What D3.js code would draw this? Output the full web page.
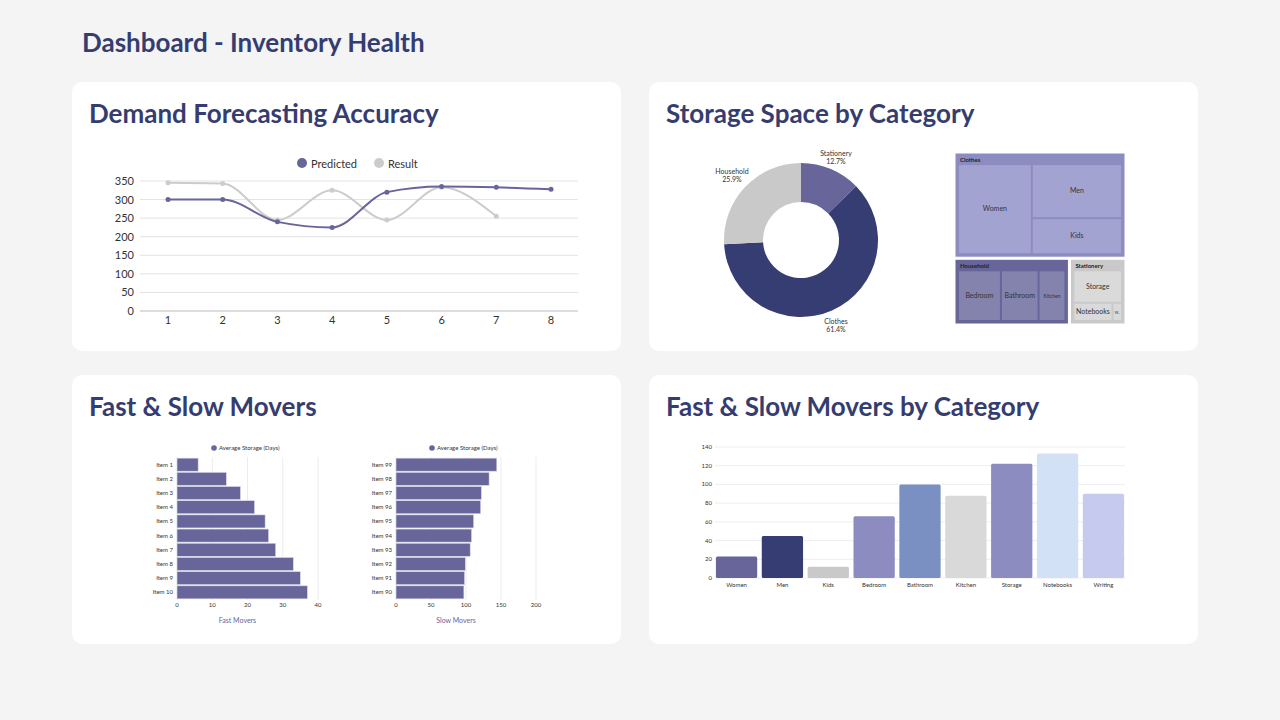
<!DOCTYPE html>
<html><head><meta charset="utf-8">
<script src="https://cdn.jsdelivr.net/npm/d3@7"></script>
<style>body{margin:0;background:#f4f4f4;font-family:Lato,sans-serif}</style>
</head><body>
<svg id="c" width="1280" height="720"></svg>
<script>
const xDays=[1,2,3,4,5,6,7,8];
const predicted=[300,300,240,225,320,335,333,328];
const result=[345,343,245,325,245,333,255];
const lineTicks=[0,50,100,150,200,250,300,350];
const donutCats=["Stationery","Clothes","Household"];
const donutVals=[12.7,61.4,25.9];
const donutColors=["#67659a","#363d73","#c9c9c9"];
const tmGroups=["Clothes","Household","Stationery"];
const tmChildren=[["Women","Men","Kids"],["Bedroom","Bathroom","Kitchen"],["Storage","Notebooks","Writing"]];
const tmValues=[[45,33,22],[40,35,25],[64,29,7]];
const tmGroupVals=[61.4,25.9,12.7];
const fastItems=["Item 1","Item 2","Item 3","Item 4","Item 5","Item 6","Item 7","Item 8","Item 9","Item 10"];
const fastVals=[6,14,18,22,25,26,28,33,35,37];
const slowItems=["Item 99","Item 98","Item 97","Item 96","Item 95","Item 94","Item 93","Item 92","Item 91","Item 90"];
const slowVals=[144,133,122,121,111,108,106,99,98,97];
const catNames=["Women","Men","Kids","Bedroom","Bathroom","Kitchen","Storage","Notebooks","Writing"];
const catVals=[23,45,12,66,100,88,122,133,90];
const catColors=["#67659a","#363d73","#c9c9c9","#8d8cc1","#7b90c2","#d9d9d9","#8d8cc1","#d3e1f7","#c6caee"];

const svg=d3.select("#c");
const navy="#353d70";
svg.append("text").attr("x",82).attr("y",52).attr("font-size",26).attr("font-weight",700).attr("fill",navy).text("Dashboard - Inventory Health");
const cards=[[72,82,"Demand Forecasting Accuracy"],[649,82,"Storage Space by Category"],[72,375,"Fast & Slow Movers"],[649,375,"Fast & Slow Movers by Category"]];
cards.forEach(([x,y,t])=>{
 svg.append("rect").attr("x",x).attr("y",y).attr("width",549).attr("height",269).attr("rx",10).attr("fill","#fff");
 svg.append("text").attr("x",x+17).attr("y",y+41).attr("font-size",26).attr("font-weight",700).attr("fill",navy).text(t);
});

// line chart
{
 const x=d3.scaleLinear().domain([1,8]).range([168,551]);
 const y=d3.scaleLinear().domain([0,350]).range([311,181]);
 const g=svg.append("g");
 lineTicks.forEach(t=>{
  g.append("line").attr("x1",140).attr("x2",578).attr("y1",y(t)).attr("y2",y(t)).attr("stroke",t==0?"#bbb":"#e3e3e3");
  g.append("text").attr("x",134).attr("y",y(t)+4).attr("text-anchor","end").attr("font-size",11).attr("fill","#333").text(t);
 });
 xDays.forEach(d=>g.append("text").attr("x",x(d)).attr("y",324).attr("text-anchor","middle").attr("font-size",11).attr("fill","#333").text(d));
 const ln=d3.line().x((d,i)=>x(xDays[i])).y(d=>y(d)).curve(d3.curveMonotoneX);
 [[result,"#cccccc"],[predicted,"#67659a"]].forEach(([s,c])=>{
  g.append("path").attr("d",ln(s)).attr("fill","none").attr("stroke",c).attr("stroke-width",2);
  s.forEach((v,i)=>g.append("circle").attr("cx",x(xDays[i])).attr("cy",y(v)).attr("r",2.5).attr("fill",c));
 });
 [["Predicted","#67659a",302],["Result","#cccccc",379]].forEach(([t,c,lx])=>{
  g.append("circle").attr("cx",lx).attr("cy",163).attr("r",5).attr("fill",c);
  g.append("text").attr("x",lx+9).attr("y",168).attr("font-size",11).attr("fill","#333").text(t);
 });
}
// donut
{
 const pie=d3.pie().sort(null).value(d=>d)(donutVals);
 const arc=d3.arc().innerRadius(38).outerRadius(77);
 const g=svg.append("g").attr("transform","translate(801,240)");
 pie.forEach((p,i)=>g.append("path").attr("d",arc(p)).attr("fill",donutColors[i]));
 const lab=[[35,-84],[35,84],[-69,-66]];
 pie.forEach((p,i)=>{
  const t=g.append("text").attr("x",lab[i][0]).attr("y",lab[i][1]).attr("text-anchor","middle").attr("font-size",7).attr("fill","#333");
  t.append("tspan").attr("x",lab[i][0]).text(donutCats[i]);
  t.append("tspan").attr("x",lab[i][0]).attr("dy",8).text(donutVals[i]+"%");
 });
}
// treemap
{
 const data={name:"root",children:tmGroups.map((g,i)=>({name:g,children:tmChildren[i].map((c,j)=>({name:c,value:tmValues[i][j]*tmGroupVals[i]/100}))}))};
 const root=d3.hierarchy(data).sum(d=>d.value||0);
 const modes={Clothes:"dice-slice",Household:"dice",Stationery:"slice-dice"};
 function tile(node,x0,y0,x1,y1){
  if(node.depth===0) return d3.treemapBinary(node,x0,y0,x1,y1);
  const m=modes[node.data.name];
  if(m==="dice") return d3.treemapDice(node,x0,y0,x1,y1);
  const [first,...rest]=node.children;
  const k=first.value/node.value;
  const sub={children:rest,value:rest.reduce((a,c)=>a+c.value,0)};
  if(m==="dice-slice"){
   const xm=x0+(x1-x0)*k;
   first.x0=x0;first.x1=xm;first.y0=y0;first.y1=y1;
   d3.treemapSlice(sub,xm,y0,x1,y1);
  } else {
   const ym=y0+(y1-y0)*k;
   first.x0=x0;first.x1=x1;first.y0=y0;first.y1=ym;
   d3.treemapDice(sub,x0,ym,x1,y1);
  }
 }
 d3.treemap().size([170,170]).tile(tile).paddingInner(2)
   .paddingOuter(d=>d.depth===0?0:4).paddingTop(d=>d.depth===0?0:12)(root);
 const sx=d3.scaleLinear().domain([0,170]).range([955,1125]);
 const sy=d3.scaleLinear().domain([0,170]).range([153,324]);
 const gc={Clothes:["#8d8cc1","#a3a3d2"],Household:["#67659a","#8483ad"],Stationery:["#c9c9c9","#dadada"]};
 const g=svg.append("g");
 root.children.forEach(n=>{
  g.append("rect").attr("x",sx(n.x0)).attr("y",sy(n.y0)).attr("width",sx(n.x1)-sx(n.x0)).attr("height",sy(n.y1)-sy(n.y0)).attr("fill",gc[n.data.name][0]).attr("stroke","#fff").attr("stroke-width",1);
  g.append("text").attr("x",sx(n.x0)+5).attr("y",sy(n.y0)+9).attr("font-size",6).attr("font-weight",700).attr("fill","#222").text(n.data.name);
  n.children.forEach(c=>{
   const w=sx(c.x1)-sx(c.x0),h=sy(c.y1)-sy(c.y0);
   g.append("rect").attr("x",sx(c.x0)).attr("y",sy(c.y0)).attr("width",w).attr("height",h).attr("fill",gc[n.data.name][1]);
   const fs=w<10?3.5:(w<30?5:7);
   g.append("text").attr("x",sx(c.x0)+w/2).attr("y",sy(c.y0)+h/2+2).attr("text-anchor","middle").attr("font-size",fs).attr("fill","#333").text(w<10?"W..":c.data.name);
  });
 });
}
// fast & slow
function hbar(items,vals,x0,x1,max,ticks,title,lx){
 const x=d3.scaleLinear().domain([0,max]).range([x0,x1]);
 const y=d3.scaleBand().domain(items).range([457,600]).padding(0.08);
 const g=svg.append("g");
 ticks.forEach(t=>{
  g.append("line").attr("x1",x(t)).attr("x2",x(t)).attr("y1",457).attr("y2",600).attr("stroke","#ececec");
  g.append("text").attr("x",x(t)).attr("y",607).attr("text-anchor","middle").attr("font-size",6).attr("fill","#333").text(t);
 });
 items.forEach((it,i)=>{
  g.append("rect").attr("x",x(0)).attr("y",y(it)).attr("width",x(vals[i])-x(0)).attr("height",y.bandwidth()).attr("fill","#67659a").attr("stroke","#dcdcec").attr("stroke-width",0.6);
  g.append("text").attr("x",x0-4).attr("y",y(it)+y.bandwidth()/2+2).attr("text-anchor","end").attr("font-size",6).attr("fill","#333").text(it);
 });
 g.append("circle").attr("cx",lx).attr("cy",448).attr("r",2.8).attr("fill","#67659a");
 g.append("text").attr("x",lx+5).attr("y",450).attr("font-size",6).attr("fill","#333").text("Average Storage (Days)");
 g.append("text").attr("x",(x0+x1)/2-10).attr("y",623).attr("text-anchor","middle").attr("font-size",7).attr("fill","#67659a").text(title);
}
hbar(fastItems,fastVals,177,318,40,[0,10,20,30,40],"Fast Movers",214);
hbar(slowItems,slowVals,396,536,200,[0,50,100,150,200],"Slow Movers",432);
// category bars
{
 const x=d3.scaleBand().domain(catNames).range([715,1125]).paddingInner(0.1).paddingOuter(0.02);
 const y=d3.scaleLinear().domain([0,140]).range([578,447]);
 const g=svg.append("g");
 d3.range(0,141,20).forEach(t=>{
  g.append("line").attr("x1",715).attr("x2",1125).attr("y1",y(t)).attr("y2",y(t)).attr("stroke","#eeeeee");
  g.append("text").attr("x",712).attr("y",y(t)+2).attr("text-anchor","end").attr("font-size",6).attr("fill","#333").text(t);
 });
 catNames.forEach((c,i)=>{
  g.append("rect").attr("x",x(c)).attr("y",y(catVals[i])).attr("width",x.bandwidth()).attr("height",y(0)-y(catVals[i])).attr("rx",1.5).attr("fill",catColors[i]);
  g.append("text").attr("x",x(c)+x.bandwidth()/2).attr("y",587).attr("text-anchor","middle").attr("font-size",6).attr("fill","#333").text(c);
 });
}
</script></body></html>
